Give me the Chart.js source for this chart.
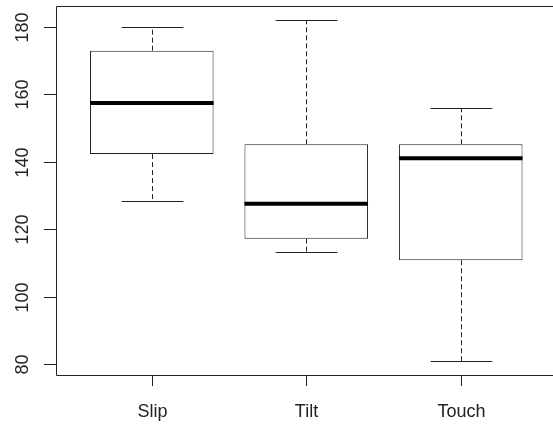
<!DOCTYPE html>
<html>
<head>
<meta charset="utf-8">
<script src="https://cdn.jsdelivr.net/npm/chart.js@4"></script>
<style>
  html, body { margin: 0; overflow: hidden; background: #fff; }
  #wrap { position: relative; width: 553px; height: 425px; overflow: hidden; }
  #myChart { display: block; }
</style>
</head>
<body>
<div id="wrap"><canvas id="myChart" width="560" height="425"></canvas></div>
<script>
// box plot values
var groups = ['Slip', 'Tilt', 'Touch'];
var lowerWhisker = [128.3, 113.1, 80.8];
var q1 = [142.3, 117.2, 110.8];
var medians = [157.5, 127.6, 141.1];
var q3 = [173.0, 145.2, 145.2];
var upperWhisker = [180.0, 182.2, 156.1];
var yTicks = [80, 100, 120, 140, 160, 180];

// R style axis range: data range plus 4% on each side
var lo = Math.min.apply(null, lowerWhisker);
var hi = Math.max.apply(null, upperWhisker);
var ext = (hi - lo) * 0.04;

var lineColor = '#222';
var font = '18px "Liberation Sans", Arial, sans-serif';

// draws whiskers, medians, frame, ticks and labels on top of the boxes
var boxPlotExtras = {
    id: 'boxPlotExtras',
    afterDatasetsDraw: function (chart) {
        var ctx = chart.ctx;
        var xs = chart.scales.x;
        var ys = chart.scales.y;
        var area = chart.chartArea;
        var bars = chart.getDatasetMeta(0).data;

        ctx.save();
        ctx.strokeStyle = lineColor;
        ctx.lineWidth = 1;

        for (var i = 0; i < groups.length; i++) {
            var x = Math.round(xs.getPixelForValue(i + 1)) + 0.5;
            var half = bars[i].width / 2;
            var yUp = Math.round(ys.getPixelForValue(upperWhisker[i])) + 0.5;
            var yLow = Math.round(ys.getPixelForValue(lowerWhisker[i])) + 0.5;
            var yQ1 = ys.getPixelForValue(q1[i]);
            var yQ3 = ys.getPixelForValue(q3[i]);
            var yMed = ys.getPixelForValue(medians[i]);

            // dashed whiskers
            ctx.setLineDash([5, 3]);
            ctx.beginPath();
            ctx.moveTo(x, yQ3);
            ctx.lineTo(x, yUp);
            ctx.moveTo(x, yQ1);
            ctx.lineTo(x, yLow);
            ctx.stroke();

            // staples
            ctx.setLineDash([]);
            ctx.beginPath();
            ctx.moveTo(x - half / 2, yUp);
            ctx.lineTo(x + half / 2, yUp);
            ctx.moveTo(x - half / 2, yLow);
            ctx.lineTo(x + half / 2, yLow);
            ctx.stroke();

            // median
            ctx.save();
            ctx.strokeStyle = '#000';
            ctx.lineWidth = 4;
            ctx.beginPath();
            ctx.moveTo(bars[i].x - half, yMed);
            ctx.lineTo(bars[i].x + half, yMed);
            ctx.stroke();
            ctx.restore();
        }

        // frame: top, left and bottom (the right side falls outside the picture)
        var l = Math.round(area.left) + 0.5;
        var t = Math.round(area.top) + 0.5;
        var b = Math.round(area.bottom) + 0.5;
        ctx.beginPath();
        ctx.moveTo(chart.width, t);
        ctx.lineTo(l, t);
        ctx.lineTo(l, b);
        ctx.lineTo(chart.width, b);
        ctx.stroke();

        ctx.fillStyle = '#222';
        ctx.font = font;

        // y axis ticks and rotated labels
        yTicks.forEach(function (v) {
            var y = Math.round(ys.getPixelForValue(v)) + 0.5;
            ctx.beginPath();
            ctx.moveTo(area.left - 12, y);
            ctx.lineTo(area.left, y);
            ctx.stroke();
            ctx.save();
            ctx.translate(area.left - 28.5, y);
            ctx.rotate(-Math.PI / 2);
            ctx.textAlign = 'center';
            ctx.textBaseline = 'alphabetic';
            ctx.fillText(String(v), 0, 0);
            ctx.restore();
        });

        // x axis ticks and group names
        groups.forEach(function (g, i) {
            var x = Math.round(xs.getPixelForValue(i + 1)) + 0.5;
            ctx.beginPath();
            ctx.moveTo(x, area.bottom);
            ctx.lineTo(x, area.bottom + 11);
            ctx.stroke();
            ctx.textAlign = 'center';
            ctx.textBaseline = 'alphabetic';
            ctx.fillText(g, x, 417);
        });

        ctx.restore();
    }
};

function renderChart() {
    var ctx = document.getElementById('myChart').getContext('2d');

    new Chart(ctx, {
        type: 'bar',
        data: {
            datasets: [{
                data: groups.map(function (g, i) { return { x: i + 1, y: [q1[i], q3[i]] }; }),
                backgroundColor: '#fff',
                borderColor: lineColor,
                borderWidth: 1,
                borderSkipped: false,
                barPercentage: 0.8,
                categoryPercentage: 1
            }]
        },
        options: {
            responsive: false,
            animation: false,
            events: [],
            layout: { padding: { left: 56, top: 6, right: 3.5, bottom: 50 } },
            plugins: { legend: { display: false }, tooltip: { enabled: false } },
            scales: {
                x: {
                    type: 'linear',
                    display: false,
                    offset: false,
                    min: 0.38,
                    max: 3.62,
                    afterBuildTicks: function (scale) {
                        scale.ticks = groups.map(function (g, i) { return { value: i + 1 }; });
                    }
                },
                y: {
                    type: 'linear',
                    display: false,
                    min: lo - ext,
                    max: hi + ext
                }
            }
        },
        plugins: [boxPlotExtras]
    });
}

renderChart();
</script>
</body>
</html>
